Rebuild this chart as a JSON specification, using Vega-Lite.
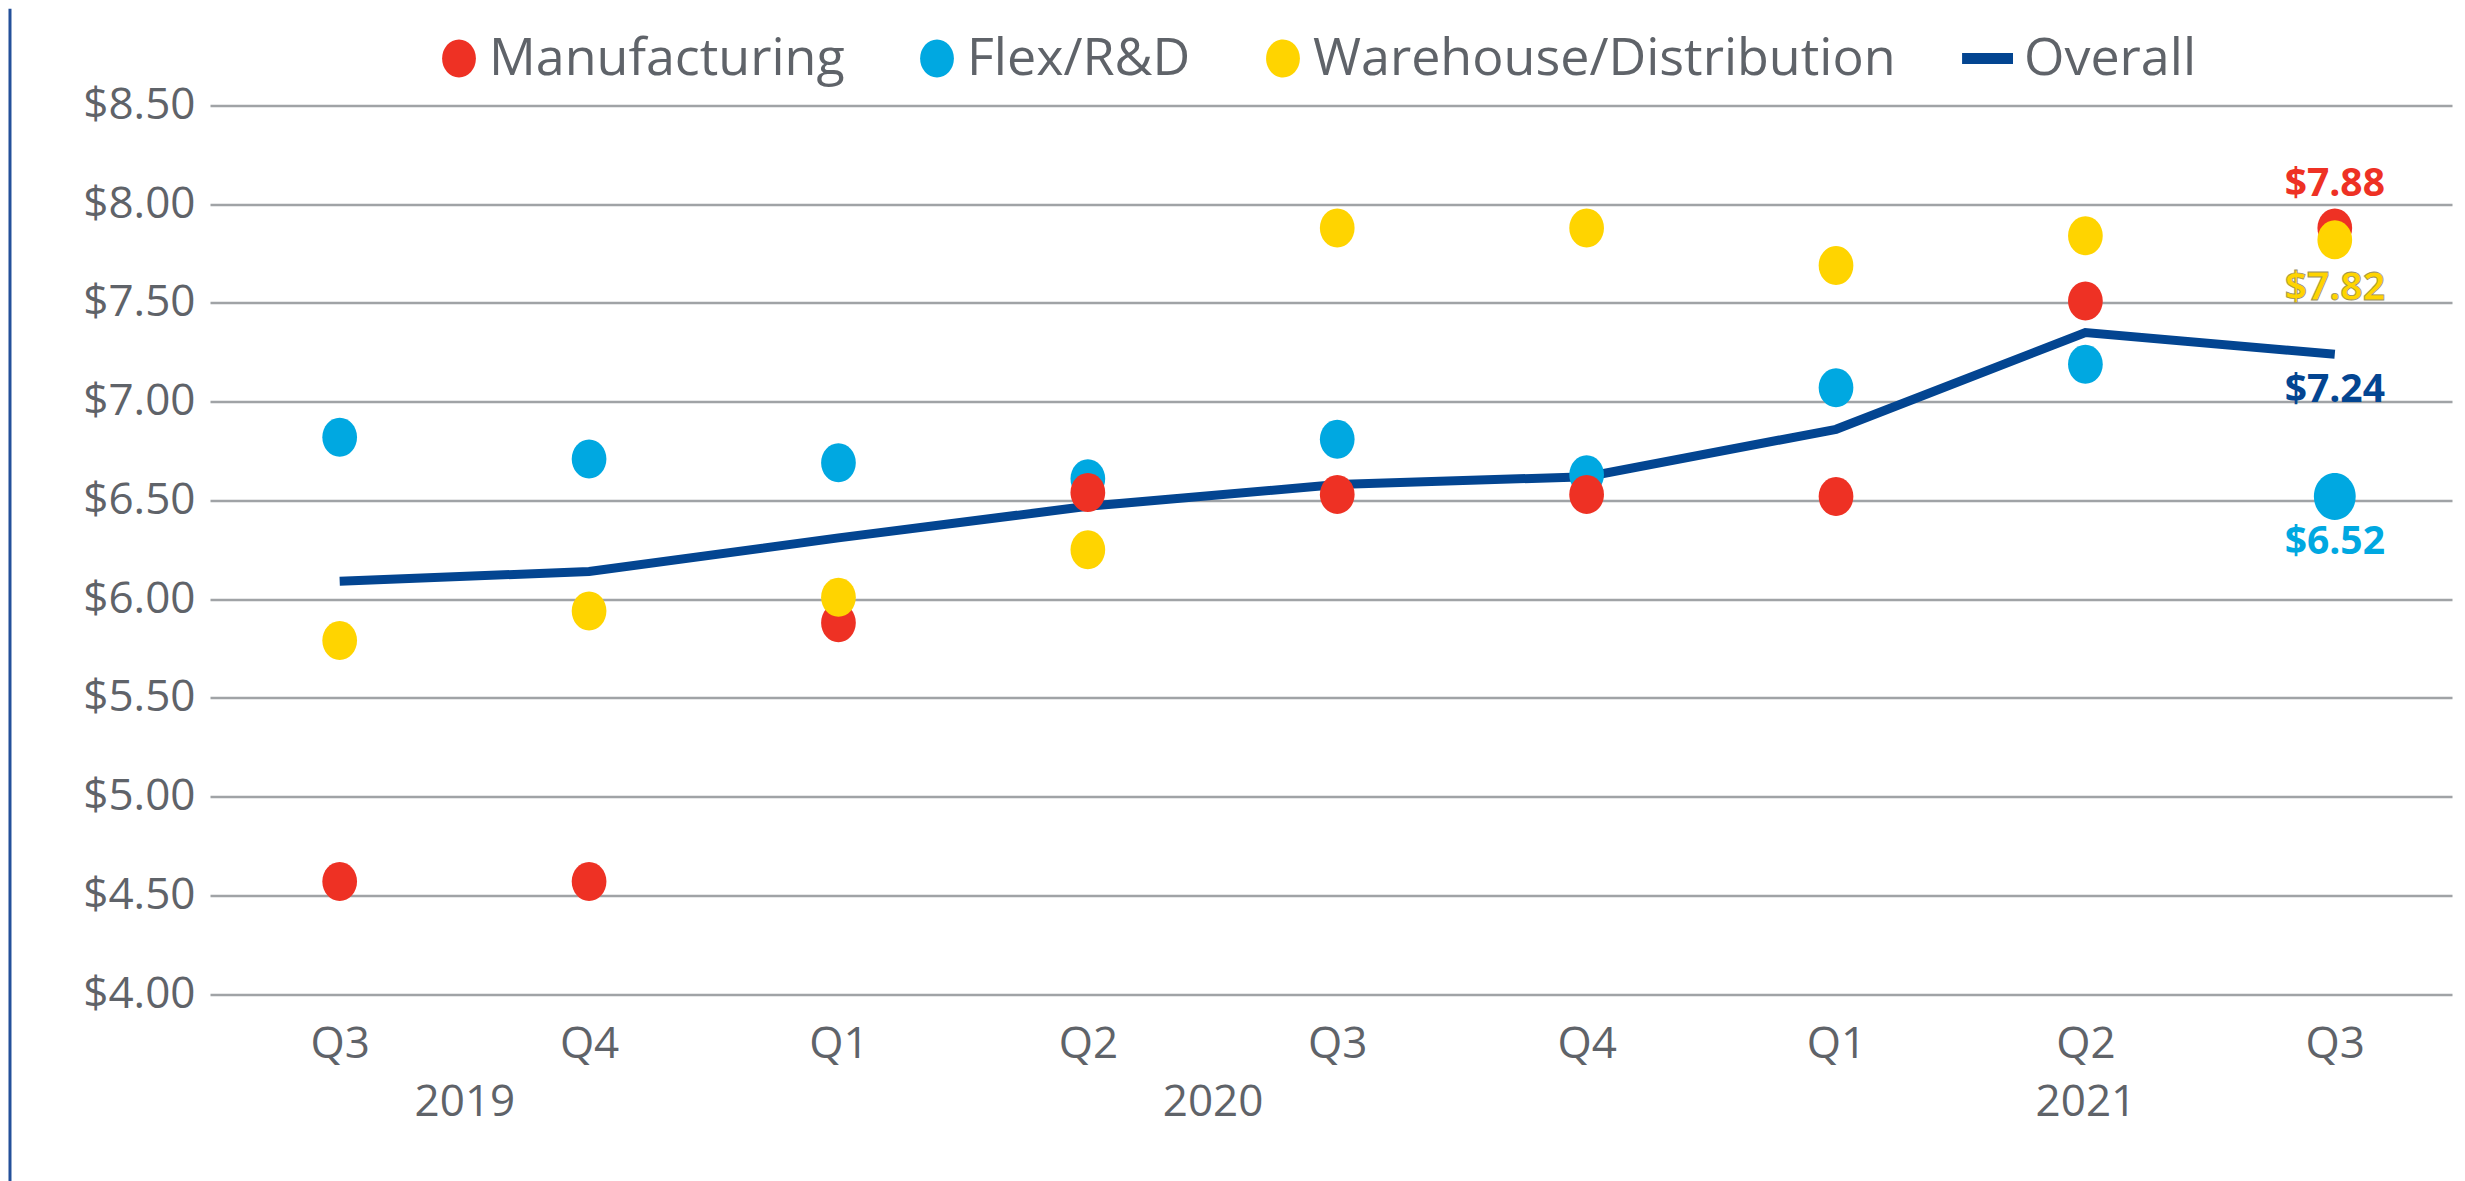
{
  "$schema": "https://vega.github.io/schema/vega-lite/v6.json",
  "width": 2242,
  "height": 888.5,
  "autosize": {"type": "none"},
  "padding": {"left": 210, "top": 105.5, "right": 13, "bottom": 187},
  "background": "white",
  "config": {
    "view": {"stroke": null},
    "font": "Open Sans",
    "axis": {"labelFont": "Open Sans", "labelColor": "#5F6369", "labelFontSize": 44},
    "legend": {"labelFont": "Open Sans", "labelColor": "#5F6369", "labelFontSize": 52, "labelLimit": 1000, "symbolSize": 1444, "symbolStrokeWidth": 0, "symbolOpacity": 1, "labelOffset": 4, "columnPadding": 66, "padding": 0}
  },
  "datasets": {
    "series": [
      {"period": 0, "quarter": "Q3", "year": 2019, "series": "Flex/R&D", "value": 6.82},
      {"period": 1, "quarter": "Q4", "year": 2019, "series": "Flex/R&D", "value": 6.71},
      {"period": 2, "quarter": "Q1", "year": 2020, "series": "Flex/R&D", "value": 6.69},
      {"period": 3, "quarter": "Q2", "year": 2020, "series": "Flex/R&D", "value": 6.61},
      {"period": 4, "quarter": "Q3", "year": 2020, "series": "Flex/R&D", "value": 6.81},
      {"period": 5, "quarter": "Q4", "year": 2020, "series": "Flex/R&D", "value": 6.63},
      {"period": 6, "quarter": "Q1", "year": 2021, "series": "Flex/R&D", "value": 7.07},
      {"period": 7, "quarter": "Q2", "year": 2021, "series": "Flex/R&D", "value": 7.19},
      {"period": 8, "quarter": "Q3", "year": 2021, "series": "Flex/R&D", "value": 6.52},
      {"period": 0, "quarter": "Q3", "year": 2019, "series": "Manufacturing", "value": 4.57},
      {"period": 1, "quarter": "Q4", "year": 2019, "series": "Manufacturing", "value": 4.57},
      {"period": 2, "quarter": "Q1", "year": 2020, "series": "Manufacturing", "value": 5.88},
      {"period": 3, "quarter": "Q2", "year": 2020, "series": "Manufacturing", "value": 6.54},
      {"period": 4, "quarter": "Q3", "year": 2020, "series": "Manufacturing", "value": 6.53},
      {"period": 5, "quarter": "Q4", "year": 2020, "series": "Manufacturing", "value": 6.53},
      {"period": 6, "quarter": "Q1", "year": 2021, "series": "Manufacturing", "value": 6.52},
      {"period": 7, "quarter": "Q2", "year": 2021, "series": "Manufacturing", "value": 7.51},
      {"period": 8, "quarter": "Q3", "year": 2021, "series": "Manufacturing", "value": 7.88},
      {"period": 0, "quarter": "Q3", "year": 2019, "series": "Warehouse/Distribution", "value": 5.79},
      {"period": 1, "quarter": "Q4", "year": 2019, "series": "Warehouse/Distribution", "value": 5.94},
      {"period": 2, "quarter": "Q1", "year": 2020, "series": "Warehouse/Distribution", "value": 6.01},
      {"period": 3, "quarter": "Q2", "year": 2020, "series": "Warehouse/Distribution", "value": 6.25},
      {"period": 4, "quarter": "Q3", "year": 2020, "series": "Warehouse/Distribution", "value": 7.88},
      {"period": 5, "quarter": "Q4", "year": 2020, "series": "Warehouse/Distribution", "value": 7.88},
      {"period": 6, "quarter": "Q1", "year": 2021, "series": "Warehouse/Distribution", "value": 7.69},
      {"period": 7, "quarter": "Q2", "year": 2021, "series": "Warehouse/Distribution", "value": 7.84},
      {"period": 8, "quarter": "Q3", "year": 2021, "series": "Warehouse/Distribution", "value": 7.82},
      {"period": 0, "quarter": "Q3", "year": 2019, "series": "Overall", "value": 6.09},
      {"period": 1, "quarter": "Q4", "year": 2019, "series": "Overall", "value": 6.14},
      {"period": 2, "quarter": "Q1", "year": 2020, "series": "Overall", "value": 6.31},
      {"period": 3, "quarter": "Q2", "year": 2020, "series": "Overall", "value": 6.47},
      {"period": 4, "quarter": "Q3", "year": 2020, "series": "Overall", "value": 6.58},
      {"period": 5, "quarter": "Q4", "year": 2020, "series": "Overall", "value": 6.62},
      {"period": 6, "quarter": "Q1", "year": 2021, "series": "Overall", "value": 6.86},
      {"period": 7, "quarter": "Q2", "year": 2021, "series": "Overall", "value": 7.35},
      {"period": 8, "quarter": "Q3", "year": 2021, "series": "Overall", "value": 7.24}
    ],
    "years": [
      {"year": "2019", "mid": 0.5},
      {"year": "2020", "mid": 3.5},
      {"year": "2021", "mid": 7}
    ]
  },
  "resolve": {"scale": {"x": "independent"}},
  "layer": [
    {
      "encoding": {
        "x": {
          "field": "period", "type": "quantitative",
          "scale": {"domain": [-0.52, 8.47], "nice": false, "zero": false},
          "axis": {"title": null, "values": [0, 1, 2, 3, 4, 5, 6, 7, 8], "labelExpr": "['Q3','Q4','Q1','Q2','Q3','Q4','Q1','Q2','Q3'][datum.value]", "grid": false, "domain": false, "ticks": false, "tickSize": 0, "labelPadding": 28, "labelFlush": false, "labelOverlap": false, "labelBaseline": "top"}
        },
        "y": {
          "field": "value", "type": "quantitative",
          "scale": {"domain": [4, 8.5], "nice": false, "zero": false},
          "axis": {"title": null, "values": [4, 4.5, 5, 5.5, 6, 6.5, 7, 7.5, 8, 8.5], "format": "$.2f", "domain": false, "ticks": false, "tickSize": 0, "labelPadding": 15, "grid": true, "gridColor": "#A0A3A6", "gridWidth": 2.5, "labelOverlap": false, "labelFlush": false}
        }
      },
      "layer": [
        {
          "data": {"values": [{"edge": -1.322, "top": 8.99, "bottom": 3.0}]},
          "mark": {"type": "rule", "clip": false, "color": "#24509A", "strokeWidth": 3},
          "encoding": {
            "x": {"field": "edge", "type": "quantitative"},
            "y": {"field": "top", "type": "quantitative"},
            "y2": {"field": "bottom"}
          }
        },
        {
          "data": {"name": "series"},
          "transform": [{"filter": "datum.series === 'Overall'"}],
          "mark": {"type": "line", "strokeWidth": 9, "strokeJoin": "miter"},
          "encoding": {
            "color": {
              "field": "series", "type": "nominal",
              "scale": {"domain": ["Manufacturing", "Flex/R&D", "Warehouse/Distribution", "Overall"], "range": ["#EE3124", "#00A8E1", "#FFD400", "#034591"]},
              "legend": {"title": null, "orient": "none", "direction": "horizontal", "legendX": 223, "legendY": -73}
            }
          }
        },
        {
          "data": {"name": "series"},
          "transform": [{"filter": "datum.series !== 'Overall'"}],
          "mark": {"type": "point", "filled": true, "opacity": 1, "strokeWidth": 0},
          "encoding": {
            "color": {
              "field": "series", "type": "nominal",
              "scale": {"domain": ["Manufacturing", "Flex/R&D", "Warehouse/Distribution", "Overall"], "range": ["#EE3124", "#00A8E1", "#FFD400", "#034591"]},
              "legend": {"title": null, "orient": "none", "direction": "horizontal", "legendX": 223, "legendY": -73}
            },
            "shape": {
              "field": "series", "type": "nominal",
              "scale": {"domain": ["Manufacturing", "Flex/R&D", "Warehouse/Distribution", "Overall"], "range": ["M0,-1A0.89,1,0,1,1,0,1A0.89,1,0,1,1,0,-1Z", "M0,-1A0.89,1,0,1,1,0,1A0.89,1,0,1,1,0,-1Z", "M0,-1A0.89,1,0,1,1,0,1A0.89,1,0,1,1,0,-1Z", "M-1.68,-0.29L1,-0.29L1,0.29L-1.68,0.29Z"]},
              "legend": {"title": null, "orient": "none", "direction": "horizontal", "legendX": 223, "legendY": -73}
            },
            "size": {"condition": {"test": "datum.series === 'Flex/R&D' && datum.period === 8", "value": 2209}, "value": 1521}
          }
        },
        {
          "data": {"name": "series"},
          "transform": [{"filter": "datum.period === 8 && datum.series === 'Manufacturing'"}],
          "mark": {"type": "text", "font": "Open Sans", "fontWeight": "bold", "fontSize": 39, "color": "#EE3124", "align": "center", "baseline": "alphabetic", "dy": -32},
          "encoding": {
            "text": {"field": "value", "type": "quantitative", "format": "$.2f"}
          }
        },
        {
          "data": {"name": "series"},
          "transform": [{"filter": "datum.period === 8 && datum.series === 'Warehouse/Distribution'"}],
          "mark": {"type": "text", "font": "Open Sans", "fontWeight": "bold", "fontSize": 39, "color": "#FFD400", "stroke": "#9A9065", "strokeWidth": 0.8, "align": "center", "baseline": "alphabetic", "dy": 60},
          "encoding": {
            "text": {"field": "value", "type": "quantitative", "format": "$.2f"}
          }
        },
        {
          "data": {"name": "series"},
          "transform": [{"filter": "datum.period === 8 && datum.series === 'Overall'"}],
          "mark": {"type": "text", "font": "Open Sans", "fontWeight": "bold", "fontSize": 39, "color": "#034591", "align": "center", "baseline": "alphabetic", "dy": 48},
          "encoding": {
            "text": {"field": "value", "type": "quantitative", "format": "$.2f"}
          }
        },
        {
          "data": {"name": "series"},
          "transform": [{"filter": "datum.period === 8 && datum.series === 'Flex/R&D'"}],
          "mark": {"type": "text", "font": "Open Sans", "fontWeight": "bold", "fontSize": 39, "color": "#00A8E1", "align": "center", "baseline": "alphabetic", "dy": 58},
          "encoding": {
            "text": {"field": "value", "type": "quantitative", "format": "$.2f"}
          }
        }
      ]
    },
    {
      "data": {"name": "years"},
      "mark": {"type": "text", "opacity": 0},
      "encoding": {
        "x": {
          "field": "mid", "type": "quantitative",
          "scale": {"domain": [-0.52, 8.47], "nice": false, "zero": false},
          "axis": {"orient": "bottom", "title": null, "values": [0.5, 3.5, 7], "labelExpr": "datum.value < 2 ? '2019' : datum.value < 5 ? '2020' : '2021'", "grid": false, "domain": false, "ticks": false, "tickSize": 0, "labelPadding": 86, "labelFlush": false, "labelOverlap": false, "labelBaseline": "top"}
        },
        "text": {"field": "year"}
      }
    }
  ]
}
